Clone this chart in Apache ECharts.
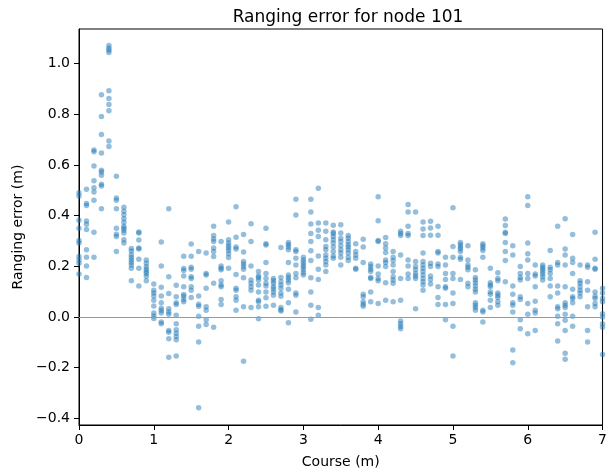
<!DOCTYPE html>
<html>
<head>
<meta charset="utf-8">
<script src="https://cdn.jsdelivr.net/npm/echarts@6/dist/echarts.min.js"></script>
<style>
html,body{margin:0;padding:0;background:#fff;}
#chart{width:610px;height:474px;}
</style>
</head>
<body>
<div id="chart"></div>
<script>
const titleText = "Ranging error for node 101";
const xAxisName = "Course (m)";
const yAxisName = "Ranging error (m)";
const xTicks = [0, 1, 2, 3, 4, 5, 6, 7];
const yTicks = [-0.4, -0.2, 0.0, 0.2, 0.4, 0.6, 0.8, 1.0];

// course positions (m), one stack of measurements at each
const course = [
  0.0,0.1,0.2,0.3,0.4,0.5,0.6,0.7,0.8,0.9,
  1.0,1.1,1.2,1.3,1.4,1.5,1.6,1.7,1.8,1.9,
  2.0,2.1,2.2,2.3,2.4,2.5,2.6,2.7,2.8,2.9,
  3.0,3.1,3.2,3.3,3.4,3.5,3.6,3.7,3.8,3.9,
  4.0,4.1,4.2,4.3,4.4,4.5,4.6,4.7,4.8,4.9,
  5.0,5.1,5.2,5.3,5.4,5.5,5.6,5.7,5.8,5.9,
  6.0,6.1,6.2,6.3,6.4,6.5,6.6,6.7,6.8,6.9,7.0
];

// ranging error values (m) at each course position
const rangingError = [
  [0.49,0.477,0.382,0.350,0.302,0.292,0.239,0.225,0.212,0.170],
  [0.504,0.448,0.440,0.379,0.366,0.345,0.265,0.236,0.201,0.156],
  [0.659,0.652,0.596,0.537,0.510,0.493,0.461,0.334,0.236],
  [0.877,0.791,0.720,0.647,0.579,0.572,0.559,0.524,0.517,0.427],
  [1.071,1.060,1.052,1.043,0.892,0.862,0.838,0.814,0.694,0.673],
  [0.555,0.469,0.461,0.427,0.350,0.326,0.318,0.258],
  [0.433,0.417,0.403,0.388,0.374,0.358,0.350,0.342,0.331,0.305,0.292],
  [0.270,0.260,0.246,0.235,0.225,0.215,0.205,0.192,0.143],
  [0.335,0.331,0.304,0.272,0.268,0.228,0.192,0.122],
  [0.225,0.212,0.198,0.188,0.179,0.172,0.161,0.143],
  [0.130,0.106,0.095,0.083,0.066,0.043,0.016,0.004,-0.006],
  [0.296,0.201,0.117,0.083,0.056,0.035,0.026,0.016,-0.020,-0.027],
  [0.427,0.159,0.093,0.033,0.020,0.011,-0.053,-0.060,-0.086,-0.159],
  [0.125,0.080,0.056,0.049,0.007,-0.027,-0.050,-0.064,-0.077,-0.090,-0.154],
  [0.240,0.191,0.183,0.162,0.119,0.089,0.082,0.069,0.060],
  [0.288,0.240,0.196,0.188,0.159,0.152,0.119,0.106,0.077],
  [0.258,0.083,0.050,0.042,0.003,-0.036,-0.099,-0.358],
  [0.252,0.172,0.166,0.113,0.040,0.027,-0.011,-0.030],
  [0.358,0.321,0.308,0.298,0.272,0.258,0.239,0.133,-0.040],
  [0.298,0.201,0.192,0.186,0.143,0.126,0.119,0.069,0.049],
  [0.375,0.305,0.292,0.281,0.272,0.262,0.249,0.235,0.192],
  [0.435,0.315,0.276,0.268,0.168,0.113,0.106,0.080,0.066,0.027],
  [0.325,0.256,0.219,0.209,0.199,0.188,0.155,0.040,-0.175],
  [0.368,0.298,0.201,0.146,0.133,0.119,0.106,0.037],
  [0.179,0.162,0.156,0.146,0.126,0.099,0.066,0.060,0.040,-0.007],
  [0.350,0.289,0.284,0.215,0.172,0.152,0.133,0.122,0.099,0.076,0.042],
  [0.152,0.143,0.133,0.119,0.110,0.099,0.086,0.046],
  [0.274,0.156,0.139,0.126,0.113,0.095,0.082,0.037,0.029,0.024],
  [0.294,0.285,0.276,0.265,0.215,0.166,0.156,0.146,0.135,0.109,0.056,-0.023],
  [0.464,0.402,0.265,0.258,0.232,0.205,0.172,0.155,0.095,0.086,0.020],
  [0.236,0.225,0.215,0.205,0.196,0.186,0.175,0.166],
  [0.464,0.414,0.367,0.329,0.298,0.261,0.223,0.155,0.099,0.046,-0.009],
  [0.508,0.371,0.342,0.318,0.241,0.188,0.148,0.037,0.007],
  [0.371,0.338,0.305,0.278,0.265,0.245,0.232,0.219,0.205,0.179],
  [0.362,0.335,0.329,0.318,0.305,0.292,0.276,0.258,0.241,0.232],
  [0.364,0.331,0.311,0.298,0.281,0.265,0.252,0.236,0.205],
  [0.321,0.311,0.298,0.285,0.276,0.265,0.252,0.236,0.223],
  [0.289,0.258,0.245,0.232,0.192,0.188],
  [0.307,0.276,0.215,0.090,0.080,0.060,0.050,0.042],
  [0.209,0.199,0.188,0.179,0.156,0.152,0.099,0.060],
  [0.474,0.380,0.302,0.298,0.201,0.170,0.152,0.143,0.053],
  [0.314,0.289,0.272,0.254,0.225,0.215,0.199,0.135,0.066],
  [0.258,0.236,0.223,0.205,0.179,0.159,0.146,0.133,0.060],
  [0.338,0.329,0.321,0.245,0.152,0.066,-0.016,-0.027,-0.037,-0.046],
  [0.444,0.414,0.358,0.329,0.321,0.225,0.201,0.170,0.152],
  [0.414,0.219,0.199,0.186,0.172,0.162,0.152,0.033],
  [0.375,0.347,0.321,0.252,0.219,0.205,0.192,0.179,0.166,0.152,0.139,0.126,0.106],
  [0.378,0.351,0.322,0.212,0.199,0.162,0.148,0.130],
  [0.358,0.322,0.258,0.252,0.209,0.199,0.119,0.077,0.049],
  [0.236,0.205,0.172,0.148,0.119,0.113,0.049,-0.011],
  [0.431,0.278,0.236,0.172,0.152,0.095,0.053,-0.036,-0.154],
  [0.294,0.285,0.276,0.268,0.258,0.236,0.228,0.148],
  [0.281,0.225,0.205,0.196,0.186,0.133,0.119],
  [0.186,0.156,0.146,0.135,0.122,0.109,0.099,0.056,0.046,0.037,0.027],
  [0.289,0.281,0.272,0.262,0.236,0.027,0.020,-0.020],
  [0.192,0.135,0.126,0.119,0.099,0.090,0.066,0.037],
  [0.175,0.152,0.143,0.095,0.086,0.077,0.060,0.046],
  [0.387,0.361,0.334,0.329,0.294,0.258,0.223,0.139],
  [0.281,0.245,0.122,0.090,0.056,0.046,0.020,-0.130,-0.180],
  [0.199,0.172,0.156,0.146,0.080,0.069,-0.011,-0.046],
  [0.474,0.440,0.292,0.249,0.225,0.172,0.152,0.053,0.011,-0.066],
  [0.205,0.170,0.162,0.119,0.062,0.027,0.016,-0.053],
  [0.205,0.196,0.188,0.179,0.170,0.159,0.146],
  [0.262,0.196,0.186,0.172,0.152,0.122,0.080],
  [0.358,0.215,0.205,0.122,0.095,0.040,0.033,0.003,-0.027,-0.095],
  [0.388,0.268,0.245,0.205,0.119,0.056,0.046,0.037,0.011,-0.013,-0.053,-0.143,-0.167],
  [0.325,0.232,0.215,0.172,0.109,0.080,0.073,0.056,0.003,-0.036],
  [0.205,0.143,0.133,0.119,0.106,0.095,0.080],
  [0.205,0.196,0.139,0.106,0.040,-0.053,-0.099],
  [0.334,0.228,0.192,0.188,0.099,0.082,0.073,0.053,0.040],
  [0.113,0.095,0.073,0.060,0.013,0.000,-0.027,-0.040,-0.148]
];

const points = [];
course.forEach((c, i) => {
  rangingError[i].forEach(v => points.push([c, v]));
});

const fontFamily = "DejaVu Sans";
const fmt = v => {
  const s = Math.abs(v) < 1e-9 ? "0.0" : v.toFixed(1);
  return s.replace("-", "\u2212");
};

const chart = echarts.init(document.getElementById("chart"), null, {renderer: "canvas"});
chart.setOption({
  animation: false,
  backgroundColor: "#ffffff",
  title: {
    text: titleText,
    left: 343, top: 4, textAlign: "center",
    textStyle: {fontFamily, fontSize: 17, fontWeight: "normal", color: "#000"}
  },
  grid: {
    left: 79, right: 3, top: 29, bottom: 49,
    show: true, borderColor: "#000", borderWidth: 1, backgroundColor: "transparent"
  },
  xAxis: {
    type: "value", min: 0, max: 7, interval: 1,
    name: xAxisName, nameLocation: "middle", nameGap: 30,
    nameTextStyle: {fontFamily, fontSize: 14, color: "#000"},
    axisLine: {show: true, onZero: false, lineStyle: {color: "#000", width: 1}},
    axisTick: {show: true, length: 5, lineStyle: {color: "#000"}},
    axisLabel: {fontFamily, fontSize: 14, color: "#000", margin: 8, formatter: v => String(v)},
    splitLine: {show: false}
  },
  yAxis: {
    type: "value", min: -0.426, max: 1.136,
    name: yAxisName, nameLocation: "middle", nameGap: 54,
    nameTextStyle: {fontFamily, fontSize: 14, color: "#000"},
    axisLine: {show: true, onZero: false, lineStyle: {color: "#000", width: 1}},
    axisTick: {show: true, length: 5, customValues: yTicks, lineStyle: {color: "#000"}},
    axisLabel: {fontFamily, fontSize: 14, color: "#000", margin: 9, customValues: yTicks, formatter: fmt},
    splitLine: {show: false}
  },
  series: [{
    type: "scatter",
    data: points,
    symbolSize: 5.5,
    itemStyle: {color: "rgba(31,119,180,0.6)"},
    markLine: {
      silent: true, symbol: "none", label: {show: false},
      lineStyle: {color: "#999999", width: 1, type: "solid"},
      data: [{yAxis: 0}]
    },
    z: 3
  }]
});
</script>
</body>
</html>
